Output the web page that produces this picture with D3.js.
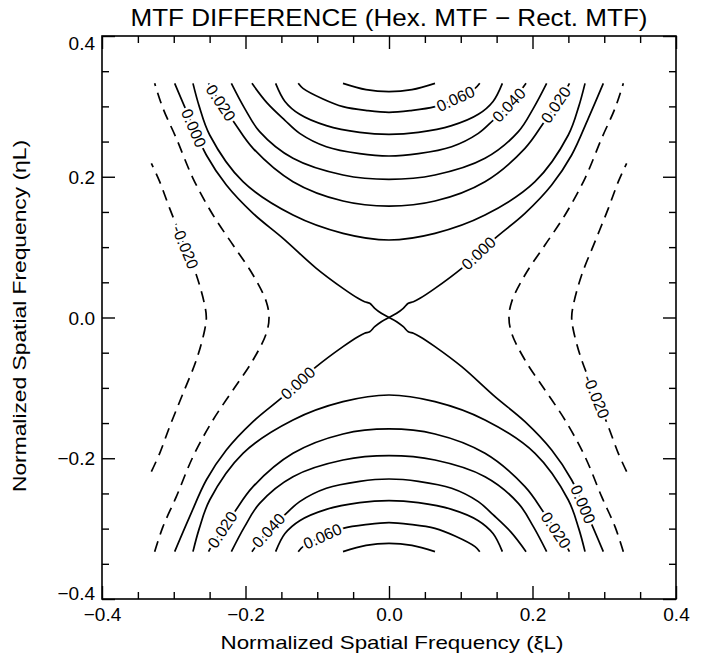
<!DOCTYPE html>
<html>
<head>
<meta charset="utf-8">
<script src="https://cdn.jsdelivr.net/npm/d3@7"></script>
<style>
  body { margin: 0; background: #fff; }
  svg { display: block; }
  text { font-family: "Liberation Sans", Arial, sans-serif; }
</style>
</head>
<body>
<svg id="chart" width="706" height="656"></svg>
<script>
// axis ticks (normalized spatial frequency)
const majorTicks = [-0.4, -0.2, 0.0, 0.2, 0.4];
const minorTicks = [-0.35, -0.3, -0.25, -0.15, -0.1, -0.05, 0.05, 0.1, 0.15, 0.25, 0.3, 0.35];

// contours, one quadrant each (xi >= 0, eta >= 0);
// the plot is symmetric so the other quadrants are mirrored
const c070 = [[0, 0.3209], [0.032, 0.3238], [0.0641, 0.3327]];
const c060 = [[0, 0.2915], [0.0293, 0.2939], [0.0641, 0.2996], [0.092, 0.3105], [0.1199, 0.3256], [0.1265, 0.3327]];
const c050 = [[0, 0.2603], [0.0409, 0.2631], [0.0873, 0.2726], [0.1245, 0.2887], [0.145, 0.307], [0.158, 0.3327]];
const c040 = [[0, 0.2295], [0.0409, 0.2328], [0.0873, 0.2427], [0.1245, 0.2617], [0.1454, 0.2806], [0.17, 0.305], [0.191, 0.3327]];
const c030 = [[0, 0.1963], [0.0641, 0.2025], [0.1338, 0.2262], [0.1803, 0.2641], [0.2012, 0.2972], [0.2197, 0.3327]];
const c020 = [[0, 0.1584], [0.0641, 0.1655], [0.1338, 0.193], [0.1895, 0.2404], [0.2165, 0.2783], [0.2476, 0.3256], [0.2515, 0.3327]];
const c010 = [[0, 0.1101], [0.0641, 0.1196], [0.1338, 0.1456], [0.2035, 0.193], [0.2499, 0.2593], [0.2645, 0.30], [0.2732, 0.3327]];
const c000 = [[0, 0], [0.0107, 0.006], [0.0199, 0.0131], [0.0269, 0.0202], [0.034, 0.0225], [0.0432, 0.0273],
              [0.0641, 0.0414], [0.1013, 0.0699], [0.1477, 0.1125], [0.1895, 0.148], [0.2267, 0.1883],
              [0.2546, 0.2309], [0.2778, 0.283], [0.2987, 0.3327]];
const cm010 = [[0.1672, 0], [0.171, 0.0225], [0.1895, 0.0604], [0.2174, 0.103], [0.2453, 0.1456],
               [0.2732, 0.1978], [0.2964, 0.2546], [0.315, 0.2972], [0.3266, 0.3327]];
const cm020 = [[0.2546, 0], [0.2569, 0.0178], [0.2685, 0.0604], [0.2871, 0.1078], [0.3057, 0.1551],
               [0.3196, 0.193], [0.3312, 0.2191]];

const levels = [0.07, 0.06, 0.05, 0.04, 0.03, 0.02, 0.01, 0.0, -0.01, -0.02];
const curves = [c070, c060, c050, c040, c030, c020, c010, c000, cm010, cm020];

// contour labels: level, text, xi, eta
const labels = [
  [0.0, "0.000", -0.2797, 0.2664],
  [0.02, "0.020", -0.2365, 0.3043],
  [-0.02, "-0.020", -0.2867, 0.0983],
  [0.06, "0.060", 0.0929, 0.3105],
  [0.04, "0.040", 0.1663, 0.302],
  [0.02, "0.020", 0.2323, 0.3029],
  [0.0, "0.000", 0.1259, 0.0902],
  [0.0, "0.000", -0.1264, -0.0935],
  [0.02, "0.020", -0.2276, -0.3044],
  [0.04, "0.040", -0.1649, -0.3058],
  [0.06, "0.060", -0.0906, -0.3162],
  [0.0, "0.000", 0.2718, -0.264],
  [0.02, "0.020", 0.2304, -0.3044],
  [-0.02, "-0.020", 0.2871, -0.1134]
];

const svg = d3.select("#chart");
const x = d3.scaleLinear().domain([-0.4, 0.4]).range([102, 676]);
const y = d3.scaleLinear().domain([-0.4, 0.4]).range([599, 36]);
const fmt = d3.format(".1f");

// mirror a quadrant into full curves
function fullCurves(pts) {
    const mx = p => [-p[0], p[1]];
    const my = p => [p[0], -p[1]];
    const first = pts[0];
    if (first[0] === 0 && first[1] > 0) {
        const top = pts.slice(1).reverse().map(mx).concat(pts);
        return [top, top.map(my)];
    }
    if (first[1] === 0 && first[0] > 0) {
        const right = pts.slice(1).reverse().map(my).concat(pts);
        return [right, right.map(mx)];
    }
    return [pts, pts.map(mx), pts.map(my), pts.map(p => [-p[0], -p[1]])];
}

const line = d3.line()
    .x(d => x(d[0]))
    .y(d => y(d[1]))
    .curve(d3.curveCatmullRom.alpha(0.5));

const contourG = svg.append("g").attr("class", "contours");
const paths = [];
levels.forEach((lv, i) => {
    fullCurves(curves[i]).forEach(c => {
        const p = contourG.append("path")
            .attr("d", line(c))
            .attr("fill", "none")
            .attr("stroke", "#000")
            .attr("stroke-width", 1.7)
            .attr("stroke-dasharray", lv < 0 ? "11,7" : null);
        paths.push({ level: lv, node: p.node() });
    });
});

// sample paths so labels sit on their curve, rotated along it
const samples = paths.map(p => {
    const len = p.node.getTotalLength();
    const pts = [];
    for (let s = 0; s <= len; s += 1) {
        const q = p.node.getPointAtLength(s);
        pts.push([q.x, q.y, s]);
    }
    return { level: p.level, node: p.node, pts: pts };
});

const labelG = svg.append("g").attr("class", "labels");
labels.forEach(l => {
    const px = x(l[2]), py = y(l[3]);
    let best = null, bestD = Infinity;
    samples.filter(s => s.level === l[0]).forEach(s => {
        s.pts.forEach(q => {
            const d = (q[0] - px) ** 2 + (q[1] - py) ** 2;
            if (d < bestD) { bestD = d; best = { s: s, q: q }; }
        });
    });
    const a = best.s.node.getPointAtLength(Math.max(0, best.q[2] - 4));
    const b = best.s.node.getPointAtLength(best.q[2] + 4);
    let ang = Math.atan2(b.y - a.y, b.x - a.x) * 180 / Math.PI;
    if (ang > 90) ang -= 180;
    if (ang < -90) ang += 180;
    labelG.append("text")
        .attr("transform", `translate(${best.q[0]},${best.q[1]}) rotate(${ang})`)
        .attr("text-anchor", "middle")
        .attr("dy", "0.35em")
        .attr("font-size", 16)
        .attr("fill", "#000")
        .attr("stroke", "#fff")
        .attr("stroke-width", 5)
        .attr("stroke-linejoin", "round")
        .attr("paint-order", "stroke")
        .text(l[1]);
});

// axes: ticks point inward on all four sides
function drawAxis(axisFn, scale, ticks, size, labelled, transform) {
    const g = svg.append("g")
        .attr("transform", transform)
        .call(axisFn(scale).tickValues(ticks).tickSizeInner(-size).tickSizeOuter(0)
            .tickPadding(labelled ? 7 : 0)
            .tickFormat(labelled ? fmt : ""));
    g.select(".domain").remove();
    g.selectAll(".tick line").attr("stroke", "#000").attr("stroke-width", 1.4);
    g.selectAll("text").attr("font-size", 19).attr("fill", "#000")
        .style("font-family", "'Liberation Sans', Arial, sans-serif");
    return g;
}
drawAxis(d3.axisBottom, x, majorTicks, 13, true, "translate(0,599)")
    .selectAll("text").attr("dy", "0.8em");
drawAxis(d3.axisBottom, x, minorTicks, 7, false, "translate(0,599)");
drawAxis(d3.axisTop, x, majorTicks, 13, false, "translate(0,36)");
drawAxis(d3.axisTop, x, minorTicks, 7, false, "translate(0,36)");
drawAxis(d3.axisLeft, y, majorTicks, 13, true, "translate(102,0)")
    .selectAll("text")
    .attr("dy", d => d === 0.4 ? "0.7em" : d === -0.4 ? "0.05em" : "0.35em");
drawAxis(d3.axisLeft, y, minorTicks, 7, false, "translate(102,0)");
drawAxis(d3.axisRight, y, majorTicks, 13, false, "translate(676,0)");
drawAxis(d3.axisRight, y, minorTicks, 7, false, "translate(676,0)");

svg.append("rect")
    .attr("x", x(-0.4)).attr("y", y(0.4))
    .attr("width", x(0.4) - x(-0.4)).attr("height", y(-0.4) - y(0.4))
    .attr("fill", "none").attr("stroke", "#000").attr("stroke-width", 1.6);

svg.append("text")
    .attr("x", 389).attr("y", 26)
    .attr("text-anchor", "middle")
    .attr("font-size", 24)
    .attr("textLength", 517)
    .attr("lengthAdjust", "spacingAndGlyphs")
    .text("MTF DIFFERENCE (Hex. MTF \u2212 Rect. MTF)");

svg.append("text")
    .attr("x", 392).attr("y", 649)
    .attr("text-anchor", "middle")
    .attr("font-size", 19)
    .attr("textLength", 343)
    .attr("lengthAdjust", "spacingAndGlyphs")
    .text("Normalized Spatial Frequency (\u03beL)");

svg.append("text")
    .attr("transform", "translate(26,316) rotate(-90)")
    .attr("text-anchor", "middle")
    .attr("font-size", 19)
    .attr("textLength", 352)
    .attr("lengthAdjust", "spacingAndGlyphs")
    .text("Normalized Spatial Frequency (\u03b7L)");
</script>
</body>
</html>
